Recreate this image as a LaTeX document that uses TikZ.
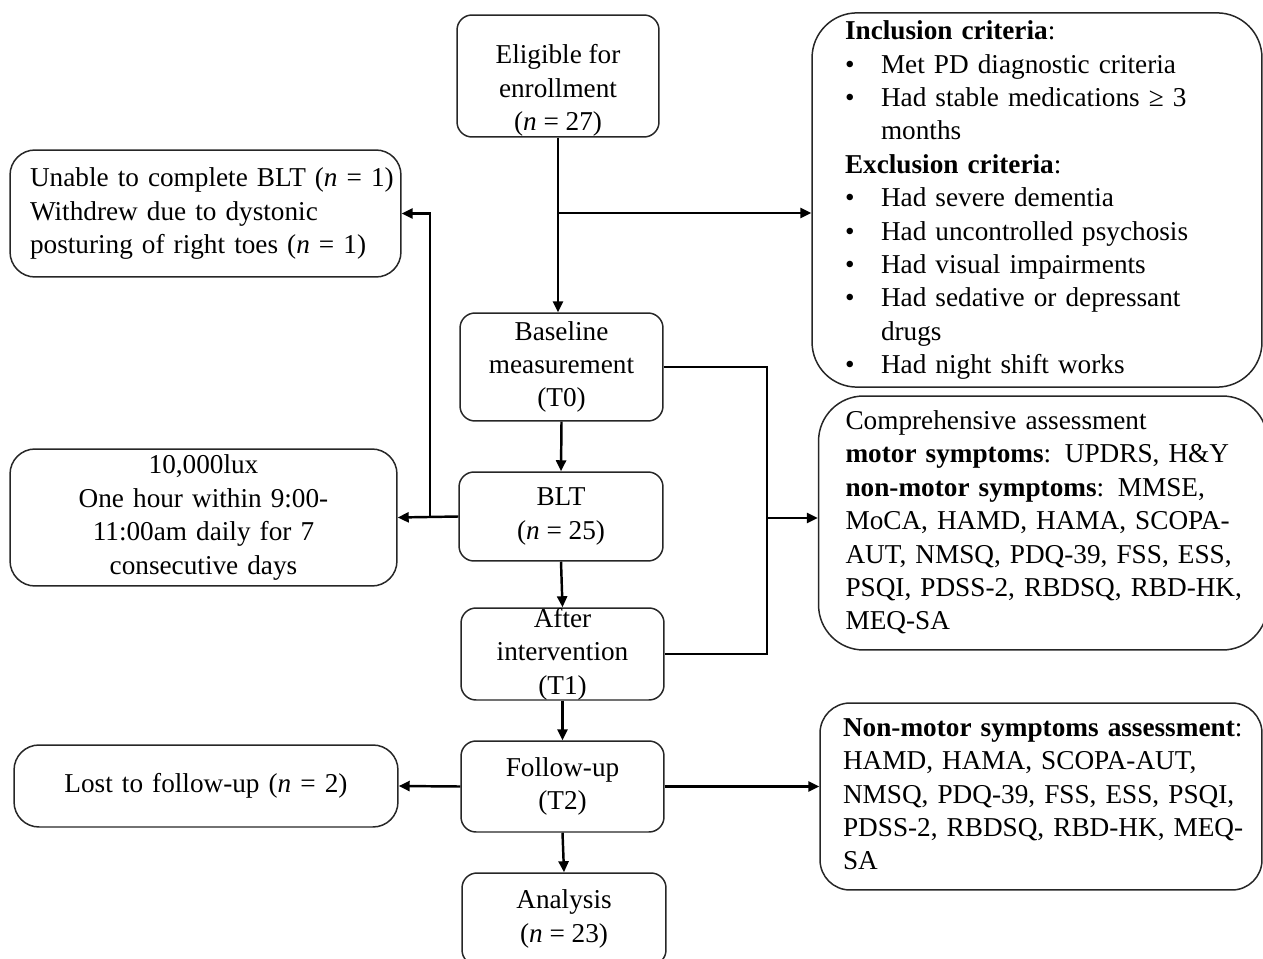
\documentclass[tikz,border=0pt]{standalone}
\usepackage{fontspec}
\setmainfont{Liberation Serif}
\usetikzlibrary{arrows.meta}
\tikzset{
  stage/.style={draw=black!85, line width=0.85pt, rounded corners=0.3cm, align=center,
    inner sep=2pt, font=\fontsize{15.5}{19}\selectfont},
  sidebox/.style={draw=black!85, line width=0.85pt, rounded corners=0.5cm,
    inner xsep=0.4cm, inner ysep=2pt, font=\fontsize{15.5}{19}\selectfont},
  infobox/.style={draw=black!85, line width=0.85pt, rounded corners=0.9cm, align=left,
    inner ysep=2pt, font=\fontsize{15.5}{19}\selectfont},
  link/.style={line width=1.4pt, -{Triangle[length=0.22cm,width=0.2cm]}},
  plain/.style={line width=1.4pt}
}
\newcommand\critem[1]{\makebox[0.72cm][l]{\textbullet}#1}
\newcommand\textlines[1]{\begin{tabular}{@{}l@{}}#1\end{tabular}}
\begin{document}
\begin{tikzpicture}[x=0.02cm, y=-0.02cm]
  \useasboundingbox (0,0) rectangle (1263,959);
  % central stages
  \node[stage, minimum width=4.04cm, minimum height=2.44cm, inner ysep=0pt] (elig) at (558,76)
    {\rule{0pt}{0.96cm}Eligible for\\enrollment\\(\textit{n} = 27)};
  \node[stage, minimum width=4.06cm, minimum height=2.16cm] (base) at (561.5,367)
    {Baseline\\measurement\\(T0)};
  \node[stage, minimum width=4.08cm, minimum height=1.78cm] (blt) at (561,516.5)
    {BLT\\(\textit{n} = 25)};
  \node[stage, minimum width=4.06cm, minimum height=1.84cm, inner ysep=0pt] (after) at (562.5,654)
    {After\\intervention\\(T1)};
  \node[stage, minimum width=4.06cm, minimum height=1.82cm] (fol) at (562.5,786.5)
    {Follow-up\\(T2)};
  \node[stage, minimum width=4.08cm, minimum height=1.84cm] (ana) at (564,919)
    {Analysis\\(\textit{n} = 23)};
  % left side
  \node[sidebox, text width=7.02cm, align=left, minimum height=2.54cm] (unable) at (205.5,213.5)
    {\textlines{Unable to complete BLT (\textit{n} = 1)\\Withdrew due to dystonic\\posturing of right toes (\textit{n} = 1)}};
  \node[sidebox, text width=6.94cm, align=center, minimum height=2.74cm] (lux) at (203.5,517.5)
    {10,000lux\\One hour within 9:00-\\11:00am daily for 7\\consecutive days};
  \node[sidebox, text width=6.88cm, align=center, minimum height=1.64cm] (lost) at (206,786)
    {Lost to follow-up (\textit{n} = 2)};
  % right side
  \node[infobox, inner xsep=0.66cm, text width=7.68cm, minimum height=7.48cm] (incl) at (1037,200)
    {\textlines{\textbf{Inclusion criteria}:\\
     \critem{Met PD diagnostic criteria}\\
     \critem{Had stable medications ≥ 3}\\
     \hspace*{0.72cm}months\\
     \textbf{Exclusion criteria}:\\
     \critem{Had severe dementia}\\
     \critem{Had uncontrolled psychosis}\\
     \critem{Had visual impairments}\\
     \critem{Had sedative or depressant}\\
     \hspace*{0.72cm}drugs\\
     \critem{Had night shift works}}};
  \node[infobox, inner xsep=0.54cm, text width=7.9cm, minimum height=5.08cm] (comp) at (1043,523)
    {\textlines{Comprehensive assessment\\
     \textbf{motor symptoms}: UPDRS, H\&Y\\
     \textbf{non-motor symptoms}: MMSE,\\
     MoCA, HAMD, HAMA, SCOPA-\\
     AUT, NMSQ, PDQ-39, FSS, ESS,\\
     PSQI, PDSS-2, RBDSQ, RBD-HK,\\
     MEQ-SA}};
  \node[infobox, rounded corners=0.6cm, inner xsep=0.46cm, text width=7.92cm, minimum height=3.74cm] (nonm) at (1041,796.5)
    {\textlines{\textbf{Non-motor symptoms assessment}:\\
     HAMD, HAMA, SCOPA-AUT,\\
     NMSQ, PDQ-39, FSS, ESS, PSQI,\\
     PDSS-2, RBDSQ, RBD-HK, MEQ-\\
     SA}};
  % connectors
  \coordinate (j1) at (558,213);
  \coordinate (j2) at (430,517);
  \coordinate (j3) at (767,367);
  \coordinate (j4) at (767,518);
  \draw[link] (elig.south) -- (elig.south |- base.north);
  \draw[link] (j1) -- (j1 -| incl.west);
  \draw[link] (blt.west) -- (lux.east);
  \draw[link] (j2) |- (unable.east);
  \draw[plain] (base.east) -- (j3) |- (after.east);
  \draw[link] (j4) -- (j4 -| comp.west);
  \draw[link] (base.south) -- (blt.north);
  \draw[link] (blt.south) -- (after.north);
  \draw[link] (after.south) -- (fol.north);
  \draw[link] (fol.west) -- (lost.east);
  \draw[link] (fol.east) -- (fol.east -| nonm.west);
  \draw[link] (fol.south) -- (ana.north);
\end{tikzpicture}
\end{document}
